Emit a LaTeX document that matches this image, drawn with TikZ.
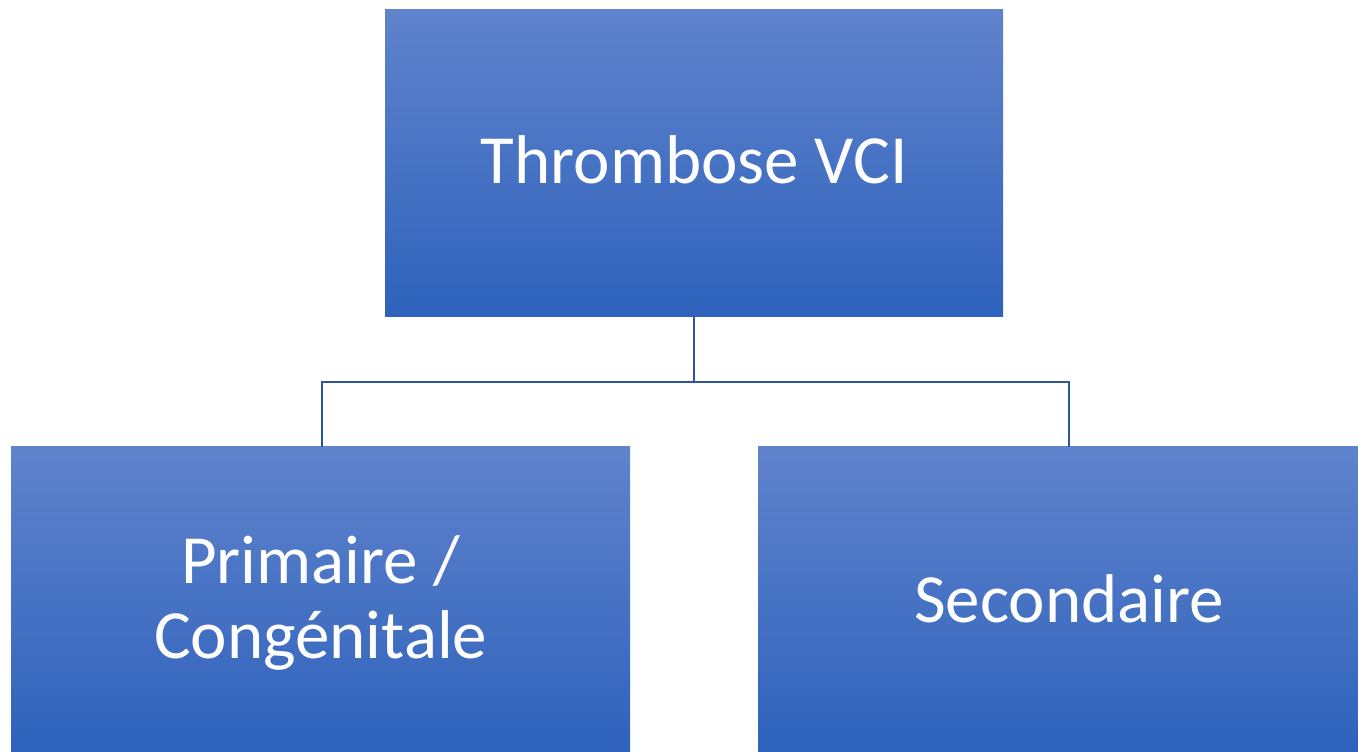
\documentclass[tikz,border=0pt]{standalone}
\usepackage{fontspec}
\setmainfont{Carlito}
\definecolor{boxtop}{RGB}{96,131,204}
\definecolor{boxbot}{RGB}{46,98,188}
\definecolor{linkcol}{RGB}{47,85,151}
\begin{document}
\begin{tikzpicture}[x=1pt,y=1pt,
  card/.style={rectangle, inner sep=0pt, anchor=south west,
    top color=boxtop, bottom color=boxbot, draw=none,
    text=white, align=center, font=\fontsize{69}{75}\selectfont},
  link/.style={draw=linkcol, line width=2pt}]
\useasboundingbox (0,0) rectangle (1358,752);
\clip (0,0) rectangle (1358,752);
% boxes
\node[card, minimum width=618pt, minimum height=307pt, text depth=8pt]
  (root) at (385,435) {Thrombose VCI};
\node[card, minimum width=619pt, minimum height=305pt, text depth=4pt]
  (prim) at (11,0) {Primaire /\\Congénitale};
\node[card, minimum width=622pt, minimum height=305pt, text depth=2pt]
  (sec) at (758,0) {Secondaire};
% connector bus
\coordinate (lbus) at (322,370);
\coordinate (rbus) at (1069,370);
\draw[link] (root.south) -- (root.south |- lbus);
\draw[link] (prim.north -| lbus) -- (lbus) -- (rbus) -- (rbus |- sec.north);
\end{tikzpicture}
\end{document}
